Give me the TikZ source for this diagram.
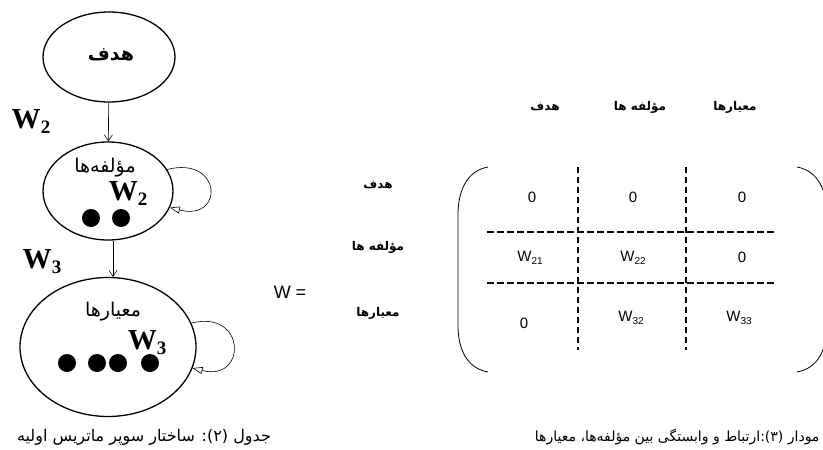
\documentclass[tikz,border=0pt]{standalone}
\usepackage{fontspec}
\setmainfont{Liberation Serif}
\newfontfamily\arfont[Script=Arabic]{DejaVu Sans}
\newfontfamily\matfont{Liberation Sans}
\TeXXeTstate=1
\usetikzlibrary{shapes.geometric,arrows.meta}
\newcommand\fa[1]{{\arfont\beginR #1\endR}}
\newcommand\wlab[1]{{\bfseries W\raisebox{-5pt}{\fontsize{19}{19}\selectfont #1}}}
\newcommand\msub[2]{#1\raisebox{-3pt}{\fontsize{10}{10}\selectfont #2}}
\begin{document}
\begin{tikzpicture}[x=1pt,y=-1pt,
    cluster/.style={draw,ellipse,line width=1.3pt,inner sep=0pt},
    flow/.style={-{Straight Barb[length=6pt,width=8pt]},line width=0.6pt},
    selfloop/.style={-{Triangle[open,length=10pt,width=7pt]},line width=0.6pt},
    dot/.style={circle,fill,inner sep=0pt,minimum size=18pt},
    wtext/.style={font=\fontsize{29}{29}\selectfont},
    artext/.style={font=\fontsize{19}{19}\selectfont},
    cell/.style={font=\matfont\fontsize{15}{15}\selectfont},
    axis/.style={font=\fontsize{12}{12}\selectfont\bfseries},
    vdiv/.style={line width=2.2pt,dash pattern=on 6pt off 4pt},
    hdiv/.style={line width=1.6pt,dash pattern=on 7pt off 3pt},
    caption/.style={font=\fontsize{14}{14}\selectfont}]
  \useasboundingbox (0,0) rectangle (823,450);
  % network of clusters
  \node[cluster,minimum width=132pt,minimum height=90pt] (goal) at (109,57) {};
  \node[artext] (goaltxt) at (111,55) {\fa{\bfseries هدف}};
  \node[cluster,minimum width=130pt,minimum height=98pt] (comp) at (108,191) {};
  \node[artext] (comptxt) at (105,168) {\fa{مؤلفه‌ها}};
  \node[wtext] (compw) at (128,194) {\wlab{2}};
  \node[dot] (cd1) at (91,218) {};
  \node[dot] (cd2) at (121,218) {};
  \node[cluster,minimum width=176pt,minimum height=139pt] (crit) at (108,347) {};
  \node[artext] (crittxt) at (113,312) {\fa{معیارها}};
  \node[wtext] (critw) at (147,343) {\wlab{3}};
  \foreach \x [count=\i] in {67,97,118,150}
    \node[dot] (kd\i) at (\x,363) {};
  \node[wtext] (w2) at (31,122) {\wlab{2}};
  \node[wtext] (w3) at (42,262) {\wlab{3}};
  \draw[flow] (goal) -- (comp);
  \draw[flow] ([xshift=5pt]comp.south) -- ([xshift=5pt]crit.north);
  \draw[selfloop] (comp.20) .. controls +(55,-14) and +(55,14) .. (comp.-15);
  \draw[selfloop] (crit.16) .. controls +(55,-14) and +(55,14) .. (crit.-14);
  % supermatrix
  \node[font=\matfont\fontsize{18}{18}\selectfont] (weq) at (290,292) {W =};
  \node[axis] (rgoal) at (378,185) {\fa{هدف}};
  \node[axis] (rcomp) at (378,247) {\fa{مؤلفه ها}};
  \node[axis] (rcrit) at (378,313) {\fa{معیارها}};
  \node[axis] (cgoal) at (545,107) {\fa{هدف}};
  \node[axis] (ccomp) at (640,107) {\fa{مؤلفه ها}};
  \node[axis] (ccrit) at (735,107) {\fa{معیارها}};
  \draw[line width=0.8pt] (488,167) .. controls (466,171) and (458,192) .. (458,215)
    -- (458,325) .. controls (458,348) and (466,368) .. (488,372);
  \draw[line width=0.8pt] (797,167) .. controls (819,171) and (827,192) .. (827,215)
    -- (827,325) .. controls (827,348) and (819,368) .. (797,372);
  \draw[vdiv] (578,167) -- (578,350);
  \draw[vdiv] (686,167) -- (686,350);
  \draw[hdiv] (487,232) -- (775,232);
  \draw[hdiv] (487,283) -- (775,283);
  \node[cell] (m11) at (532,197) {0};
  \node[cell] (m12) at (633,197) {0};
  \node[cell] (m13) at (742,197) {0};
  \node[cell] (m21) at (530,258) {\msub{W}{21}};
  \node[cell] (m22) at (633,258) {\msub{W}{22}};
  \node[cell] (m23) at (742,257) {0};
  \node[cell] (m31) at (524,323) {0};
  \node[cell] (m32) at (631,318) {\msub{W}{32}};
  \node[cell] (m33) at (739,318) {\msub{W}{33}};
  % captions
  \node[caption,font=\fontsize{16}{16}\selectfont] (cap2) at (144,437) {\fa{جدول (۲): ساختار سوپر ماتریس اولیه}};
  \node[caption,font=\fontsize{14}{14}\selectfont,anchor=east] (cap3) at (823,437) {\fa{مودار (۳):ارتباط و وابستگی بین مؤلفه‌ها، معیارها}};
\end{tikzpicture}
\end{document}
